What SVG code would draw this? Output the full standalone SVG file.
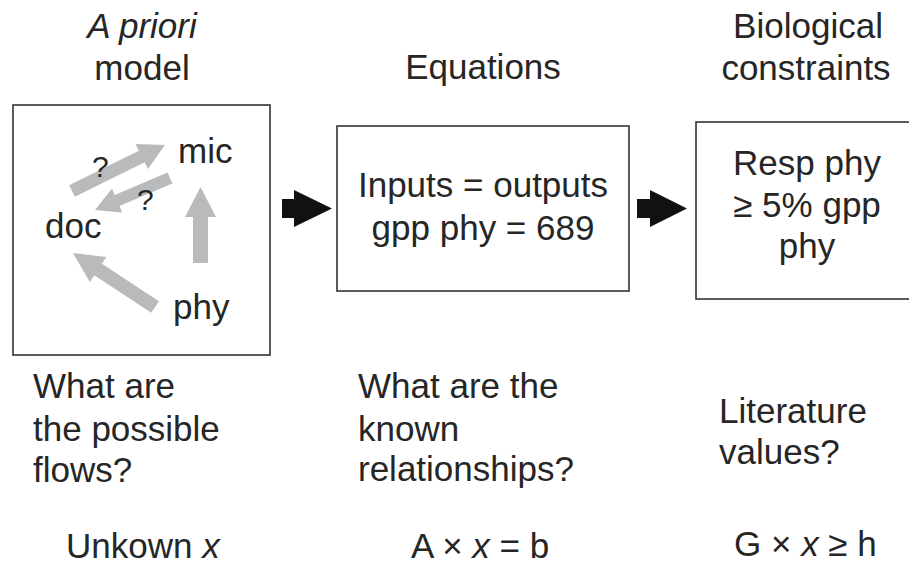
<svg xmlns="http://www.w3.org/2000/svg" width="909" height="567" viewBox="0 0 909 567">
<style>
text{font-family:"Liberation Sans",Arial,sans-serif;font-size:35px;fill:#262626}
.c{text-anchor:middle}
.i{font-style:italic}
.box{fill:#fff;stroke:#333;stroke-width:1.6}
.flow{fill:#b9babc}
.arr{fill:#111}
.q{font-size:30px}
</style>
<rect width="909" height="567" fill="#fff"/>
<g id="headings">
<text class="c i" x="142" y="38">A priori</text>
<text class="c" x="142" y="80">model</text>
<text class="c" x="483" y="79">Equations</text>
<text class="c" x="808" y="38">Biological</text>
<text class="c" x="806" y="80">constraints</text>
</g>
<g id="model">
<rect class="box" x="13" y="105" width="257" height="250"/>
<g id="flows">
<polygon class="flow" points="69.1,185.2 138.8,150.7 135.5,143.9 165,145 147.9,169.1 144.6,162.3 74.9,196.8"/>
<polygon class="flow" points="167.6,172.5 114.7,195.1 112,188.6 95,210 122.2,212.6 119.5,206.1 172.4,183.5"/>
<polygon class="flow" points="193,263 193,217 185,217 200.5,187 216,217 208,217 208,263"/>
<polygon class="flow" points="158.9,301.2 101.9,263.7 106.4,257 73,253 89.8,282 94.3,275.3 151.2,312.8"/>
</g>
<text x="178" y="163">mic</text>
<text x="45" y="238">doc</text>
<text x="173" y="319">phy</text>
<text class="q" x="92" y="177">?</text>
<text class="q" x="137" y="210">?</text>
</g>
<g id="equations">
<rect class="box" x="337" y="126" width="292" height="165"/>
<text class="c" x="483" y="197">Inputs = outputs</text>
<text class="c" x="483" y="240">gpp phy = 689</text>
</g>
<g id="constraints">
<rect class="box" x="696" y="122" width="230" height="177"/>
<text class="c" x="807" y="175">Resp phy</text>
<text class="c" x="807" y="217">≥ 5% gpp</text>
<text class="c" x="807" y="258">phy</text>
</g>
<g id="connectors">
<polygon class="arr" points="282,199 294,199 294,190 332,208.5 294,227 294,218 282,218"/>
<polygon class="arr" points="637,199 650,199 650,190 687,208.5 650,227 650,218 637,218"/>
</g>
<g id="questions">
<text x="33" y="398">What are</text>
<text x="33" y="441">the possible</text>
<text x="33" y="482">flows?</text>
<text x="358" y="398">What are the</text>
<text x="358" y="441">known</text>
<text x="358" y="481">relationships?</text>
<text x="719" y="423">Literature</text>
<text x="719" y="464">values?</text>
</g>
<g id="formulas">
<text x="66" y="558">Unkown <tspan class="i">x</tspan></text>
<text x="411" y="558">A × <tspan class="i">x</tspan> = b</text>
<text x="734" y="556">G × <tspan class="i">x</tspan> ≥ h</text>
</g>
</svg>
